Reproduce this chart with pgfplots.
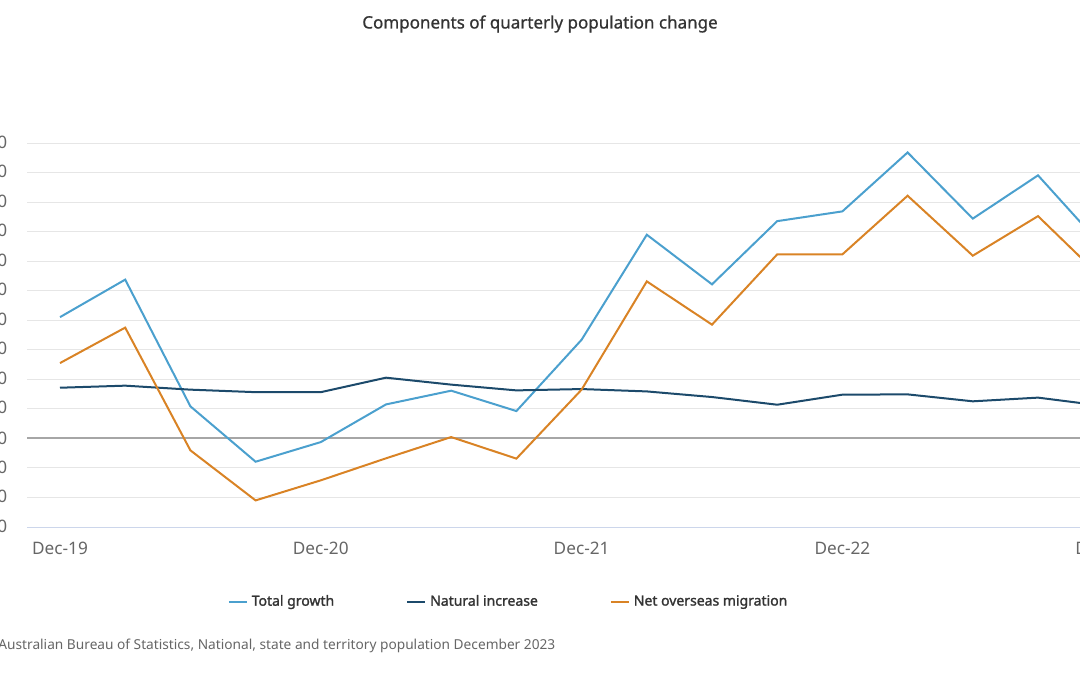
\documentclass[border=0pt]{standalone}
\usepackage{pgfplots}
\pgfplotsset{compat=1.18}
\usepackage{fontspec}
\setmainfont{Noto Sans}
\newfontfamily\legfont{Noto Sans}[FakeBold=1.6]
\newfontfamily\titfont{Noto Sans}[FakeBold=0.9]
\definecolor{tg}{HTML}{4BA0CE}
\definecolor{ni}{HTML}{1C4A6B}
\definecolor{nom}{HTML}{D98325}
\definecolor{gridc}{HTML}{E6E6E6}
\definecolor{axc}{HTML}{CCD6EB}
\definecolor{zeroc}{HTML}{A6A6A6}
\definecolor{txt}{HTML}{333333}
\definecolor{lbl}{HTML}{666666}
\begin{document}
\begin{tikzpicture}
\path[use as bounding box, clip] (0,0) rectangle (540pt,337.5pt);
\node[font=\titfont\fontsize{8.5}{10}\selectfont, text=txt] at (270pt,325.5pt) {Components of quarterly population change};
\node[font=\fontsize{6.85}{8}\selectfont, text=lbl, anchor=west, inner sep=0pt] at (-1pt,14.5pt) {Australian Bureau of Statistics, National, state and territory population December 2023};
\begin{axis}[
  at={(13.7pt,74pt)}, anchor=south west,
  scale only axis, width=554.2pt, height=192pt,
  xmin=-0.5, xmax=16.5, ymin=-60000, ymax=200000,
  axis lines*=left,
  x axis line style={draw=axc, line width=0.5pt},
  y axis line style={draw=none},
  major tick length=0pt,
  xtick={0,4,8,12,16},
  xticklabels={Dec-19,Dec-20,Dec-21,Dec-22,Dec-23},
  scaled y ticks=false,
  ytick={-60000,-40000,-20000,0,20000,40000,60000,80000,100000,120000,140000,160000,180000,200000},
  yticklabels={{−60,000},{−40,000},{−20,000},{0},{20,000},{40,000},{60,000},{80,000},{100,000},{120,000},{140,000},{160,000},{180,000},{200,000}},
  yticklabel style={xshift=-6.5pt},
  ticklabel style={font=\fontsize{8.6}{10}\selectfont, text=lbl},
  xticklabel style={yshift=-4pt},
  ymajorgrids, grid style={draw=gridc, line width=0.5pt},
  extra y ticks={0}, extra y tick labels={},
  extra y tick style={grid style={draw=zeroc, line width=1pt}},
  legend style={at={(0.435,-0.195)}, anchor=center, draw=none, fill=none,
    font=\legfont\fontsize{7}{9}\selectfont, text=txt,
    legend columns=3, /tikz/every even column/.append style={column sep=34pt}},
  legend image code/.code={\draw[#1, line width=1pt] (0pt,0pt) -- (9pt,0pt);},
  every axis plot/.append style={line width=1pt, mark=none},
]
\addplot[tg] coordinates {(0,82100)(1,107500)(2,21700)(3,-15800)(4,-2500)(5,23000)(6,32300)(7,18500)(8,66800)(9,137900)(10,104300)(11,147100)(12,153700)(13,193600)(14,148800)(15,178100)(16,129300)};
\addlegendentry{Total growth}
\addplot[ni] coordinates {(0,34300)(1,35700)(2,33000)(3,31300)(4,31300)(5,41100)(6,36400)(7,32500)(8,33400)(9,31800)(10,28000)(11,22800)(12,29600)(13,29800)(14,25100)(15,27600)(16,22000)};
\addlegendentry{Natural increase\hspace{9.5pt}}
\addplot[nom] coordinates {(0,51000)(1,75000)(2,-8100)(3,-42000)(4,-28400)(5,-13500)(6,900)(7,-13700)(8,33000)(9,106300)(10,77000)(11,124600)(12,124600)(13,164300)(14,123700)(15,150500)(16,107700)};
\addlegendentry{Net overseas migration}
\end{axis}
\end{tikzpicture}
\end{document}
